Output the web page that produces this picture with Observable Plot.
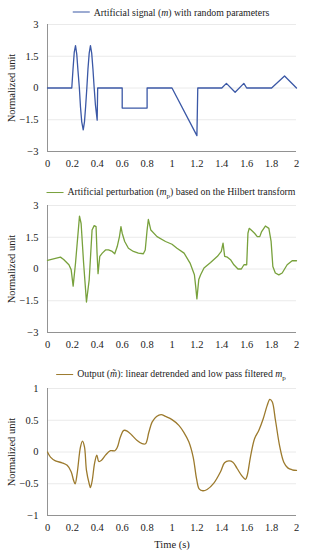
<!DOCTYPE html>
<html><head><meta charset="utf-8">
<script src="https://cdn.jsdelivr.net/npm/d3@7"></script>
<script src="https://cdn.jsdelivr.net/npm/@observablehq/plot@0.6"></script>
<style>
body{margin:0;background:#fff;}
#wrap{position:relative;width:309px;height:550px;font-family:'Liberation Serif','DejaVu Serif',serif;color:#222;}
#wrap svg{position:absolute;left:0;overflow:visible;font-family:'Liberation Serif','DejaVu Serif',serif !important;}
#wrap svg text{font-family:'Liberation Serif','DejaVu Serif',serif;}
.leg{position:absolute;left:171px;transform:translate(-50%,-50%);white-space:nowrap;font-size:9.8px;display:flex;align-items:center;}
.sw{display:inline-block;width:17px;height:0;border-top:1.4px solid;margin-right:4px;}
.leg i{font-style:italic;}
</style></head>
<body><div id="wrap"></div>
<script>
// Panel 1: artificial signal m
const t1 = [0,0.195,0.205,0.215,0.225,0.235,0.245,0.256,0.265,0.275,0.287,0.297,0.306,0.316,0.325,0.335,0.345,0.355,0.365,0.375,0.385,0.399,0.403,0.6,0.6,0.8,0.8,1.0,1.2,1.207,1.4,1.437,1.507,1.577,1.6,1.8,1.904,2.0];
const v1 = [0,0,0.9,1.7,2.0,1.6,0.8,0,-0.9,-1.6,-1.98,-1.6,-0.9,0,0.9,1.65,2.0,1.65,0.9,0,-0.8,-1.52,0,0,-0.95,-0.95,0,0,-2.25,0,0,0.22,-0.2,0.22,0,0,0.57,0];
// Panel 2: perturbation m_p
const t2 = [0,0.104,0.13,0.172,0.19,0.206,0.225,0.257,0.27,0.29,0.313,0.335,0.358,0.375,0.39,0.398,0.406,0.42,0.44,0.466,0.49,0.52,0.54,0.56,0.578,0.59,0.6,0.62,0.65,0.69,0.73,0.77,0.785,0.80,0.81,0.83,0.88,0.948,1.0,1.04,1.097,1.145,1.18,1.19,1.2,1.215,1.23,1.257,1.31,1.365,1.396,1.41,1.423,1.445,1.47,1.497,1.53,1.557,1.578,1.6,1.61,1.62,1.636,1.663,1.685,1.705,1.72,1.75,1.778,1.796,1.81,1.83,1.858,1.885,1.925,1.965,2.0];
const v2 = [0.41,0.56,0.45,0.2,-0.03,-0.81,0.28,2.5,2.15,0.28,-1.56,-0.5,1.84,2.05,2.0,0.75,-0.22,0.6,0.75,0.9,0.9,0.83,0.72,1.06,1.53,2.0,1.69,1.3,0.98,0.83,0.75,0.72,0.9,1.84,2.34,1.84,1.53,1.3,1.17,0.98,0.75,0.28,-0.27,-0.81,-1.41,-0.5,-0.27,0.05,0.31,0.6,0.83,1.22,0.6,0.56,0.44,0.2,0.0,0.0,0.2,0.2,1.69,1.92,1.84,1.69,1.53,1.53,1.77,2.03,1.92,1.3,0.12,-0.19,-0.28,-0.19,0.2,0.39,0.39];
// Panel 3: output m~
const t3 = [0,0.024,0.064,0.118,0.158,0.19,0.21,0.222,0.238,0.265,0.281,0.297,0.313,0.335,0.345,0.359,0.378,0.396,0.412,0.434,0.466,0.506,0.541,0.56,0.586,0.613,0.64,0.68,0.72,0.76,0.787,0.814,0.84,0.876,0.913,0.948,1.0,1.055,1.095,1.135,1.17,1.197,1.218,1.248,1.282,1.336,1.39,1.422,1.457,1.489,1.523,1.563,1.59,1.604,1.63,1.663,1.697,1.732,1.764,1.786,1.805,1.831,1.866,1.898,1.93,1.965,2.0];
const v3 = [0,-0.08,-0.14,-0.17,-0.21,-0.31,-0.45,-0.5,-0.34,0.08,0.17,0.08,-0.29,-0.5,-0.56,-0.45,-0.18,-0.05,-0.15,-0.13,-0.05,0.02,0.02,0.07,0.24,0.34,0.33,0.26,0.18,0.13,0.13,0.31,0.47,0.56,0.59,0.56,0.51,0.42,0.31,0.16,-0.08,-0.42,-0.58,-0.61,-0.59,-0.49,-0.31,-0.17,-0.14,-0.16,-0.26,-0.38,-0.43,-0.37,-0.08,0.21,0.34,0.52,0.73,0.83,0.79,0.5,0.08,-0.16,-0.25,-0.28,-0.29];

const xTicks = [0,0.2,0.4,0.6,0.8,1,1.2,1.4,1.6,1.8,2];
const yTicksA = [-3,-1.5,0,1.5,3];
const yTicksB = [-1,-0.5,0,0.5,1];

const colors = ["#3b58a6","#78a13c","#9c7a2d"];
const legends = [
  'Artificial signal (<i>m</i>) with random parameters',
  'Artificial perturbation (<i>m</i><sub style="font-size:7px">p</sub>) based on the Hilbert transform',
  'Output (<i>m\u0303</i>): linear detrended and low pass filtered <i>m</i><sub style="font-size:7px">p</sub>'
];

const fmt = d => String(d).replace("-", "\u2212");
const wrap = document.getElementById("wrap");

function panel({t, v, color, yDomain, yTicks, top, mTop, mBottom, legendY, legend, curve, xLabel}) {
  const data = t.map((d, i) => ({t: d, v: v[i]}));
  const height = mTop + 127 + mBottom;
  const svg = Plot.plot({
    width: 309, height,
    marginLeft: 47, marginRight: 13, marginTop: mTop, marginBottom: mBottom,
    style: {fontFamily: "'Liberation Serif','DejaVu Serif',serif", fontSize: "10.5px", color: "#222", background: "transparent"},
    x: {domain: [0, 2], ticks: xTicks, tickFormat: fmt, tickSize: 0, tickPadding: 8, label: xLabel, labelAnchor: "center", labelOffset: 32, labelArrow: false},
    y: {domain: yDomain, ticks: yTicks, tickFormat: fmt, tickSize: 0, tickPadding: 9, label: "Normalized unit", labelAnchor: "center", labelOffset: 40, labelArrow: false},
    marks: [
      Plot.gridY(yTicks, {stroke: "#e4e4e4", strokeOpacity: 1, strokeWidth: 0.8}),
      Plot.ruleX([0], {stroke: "#888", strokeWidth: 0.9}),
      Plot.ruleY([yDomain[0]], {stroke: "#888", strokeWidth: 0.9}),
      Plot.line(data, {x: "t", y: "v", stroke: color, strokeWidth: 1.3, curve})
    ]
  });
  svg.style.top = top + "px";
  wrap.appendChild(svg);
  const lg = document.createElement("div");
  lg.className = "leg";
  lg.style.top = legendY + "px";
  lg.innerHTML = `<span class="sw" style="border-color:${color}"></span><span>${legend}</span>`;
  wrap.appendChild(lg);
}

panel({t: t1, v: v1, color: colors[0], yDomain: [-3, 3], yTicks: yTicksA, top: 0, mTop: 24, mBottom: 24, legendY: 12, legend: legends[0], curve: "linear", xLabel: null});
panel({t: t2, v: v2, color: colors[1], yDomain: [-3, 3], yTicks: yTicksA, top: 180, mTop: 25, mBottom: 24, legendY: 193, legend: legends[1], curve: "linear", xLabel: null});
panel({t: t3, v: v3, color: colors[2], yDomain: [-1, 1], yTicks: yTicksB, top: 360, mTop: 28, mBottom: 35, legendY: 375, legend: legends[2], curve: "catmull-rom", xLabel: "Time (s)"});
</script></body></html>
